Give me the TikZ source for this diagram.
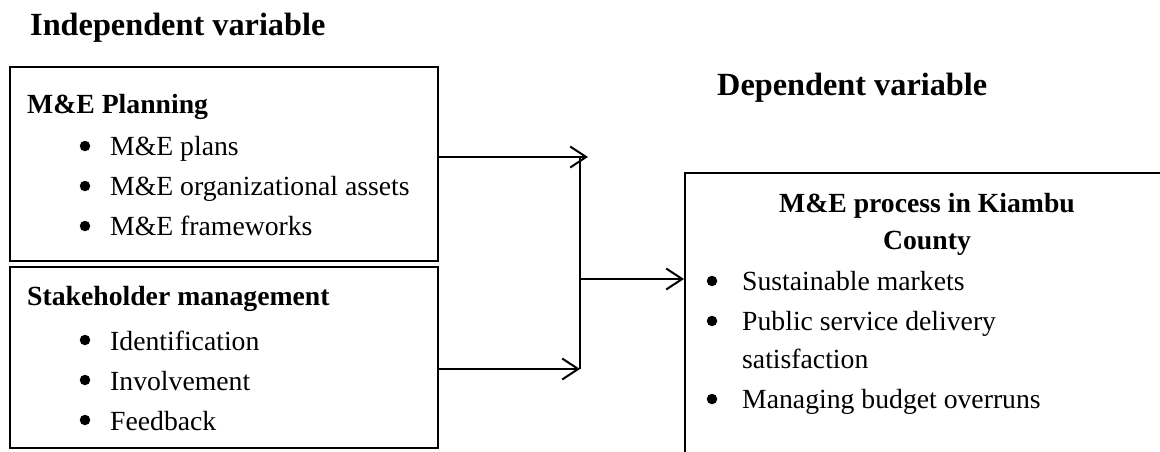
\documentclass[tikz,border=0pt]{standalone}
\usepackage{fontspec}
\setmainfont{Liberation Serif}
\usetikzlibrary{arrows.meta}
\begin{document}
\begin{tikzpicture}[x=1pt,y=-1pt,
  box/.style={draw,line width=2pt,inner sep=0pt,anchor=north west},
  txt/.style={inner sep=0pt,anchor=base west,font=\fontsize{27.7}{33}\selectfont},
  ttl/.style={inner sep=0pt,anchor=base west,font=\fontsize{32.3}{38}\selectfont\bfseries},
  hd/.style={txt,font=\fontsize{27.7}{33}\selectfont\bfseries},
  bul/.style={circle,fill=black,inner sep=0pt,minimum size=10.5pt},
  arr/.style={line width=2pt,-{Straight Barb[length=16pt,width=21pt,line width=2pt]}},
  ln/.style={line width=2pt}]
\clip (0,0) rectangle (1160,451);
\fill[white] (0,0) rectangle (1160,451);
% titles
\node[ttl] (t1) at (30,35) {Independent variable};
\node[ttl] (t2) at (717,95) {Dependent variable};
% boxes
\node[box,minimum width=428pt,minimum height=194pt] (b1) at (9,66) {};
\node[box,minimum width=428pt,minimum height=181pt] (b2) at (9,266) {};
\node[box,minimum width=700pt,minimum height=500pt] (b3) at (684,172) {};
% box 1 text
\node[hd] (h1) at (27,113) {M\&E Planning};
\node[bul] (p1b) at (85,146) {};
\node[txt] (p1) at (110,155) {M\&E plans};
\node[bul] (p2b) at (85,186) {};
\node[txt] (p2) at (110,195) {M\&E organizational assets};
\node[bul] (p3b) at (85,226) {};
\node[txt] (p3) at (110,235) {M\&E frameworks};
% box 2 text
\node[hd] (h2) at (27,305) {Stakeholder management};
\node[bul] (s1b) at (85,340) {};
\node[txt] (s1) at (110,350) {Identification};
\node[bul] (s2b) at (85,380) {};
\node[txt] (s2) at (110,390) {Involvement};
\node[bul] (s3b) at (85,420) {};
\node[txt] (s3) at (110,430) {Feedback};
% box 3 text
\node[hd,anchor=base] (h3a) at (927,212) {M\&E process in Kiambu};
\node[hd,anchor=base] (h3b) at (927,249) {County};
\node[bul] (r1b) at (712,281) {};
\node[txt] (r1) at (742,290) {Sustainable markets};
\node[bul] (r2b) at (712,321) {};
\node[txt] (r2) at (742,330) {Public service delivery};
\node[txt] (r2c) at (742,368) {satisfaction};
\node[bul] (r3b) at (712,399) {};
\node[txt] (r3) at (742,408) {Managing budget overruns};
% connectors
\coordinate (ja) at (580,157);
\coordinate (jb) at (580,369);
\coordinate (jm) at (580,279);
\coordinate (tipa) at (588,157);
\draw[arr] (b1.east |- ja) -- (tipa);
\draw[arr] (b2.east |- jb) -- (jb);
\draw[ln] (ja) -- (jb);
\draw[arr] (jm) -- (b3.west |- jm);
\end{tikzpicture}
\end{document}
